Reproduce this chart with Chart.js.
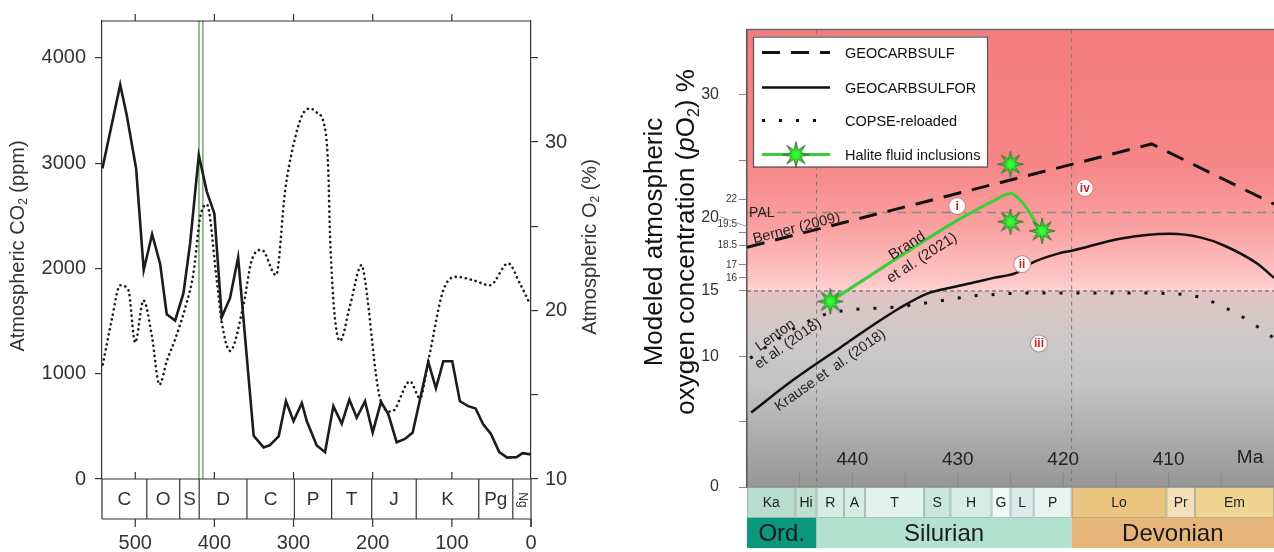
<!DOCTYPE html>
<html>
<head>
<meta charset="utf-8">
<script src="https://cdn.jsdelivr.net/npm/chart.js@4.4.1/dist/chart.umd.min.js"></script>
<style>
  html, body { margin: 0; padding: 0; background: #fff; }
  body { width: 1274px; height: 552px; position: relative; overflow: hidden; }
  #co2Chart { position: absolute; left: 0; top: 0; }
  #o2Chart { position: absolute; left: 600px; top: 0; }
</style>
</head>
<body>
<canvas id="co2Chart" width="600" height="552"></canvas>
<canvas id="o2Chart" width="674" height="552"></canvas>
<script>
const FONT = "'Liberation Sans', Arial, Helvetica, sans-serif";

// ---- left panel: Phanerozoic CO2 / O2 ----
const co2Ages = [541.5, 519, 510.6, 498.9, 489.3, 478.7, 468.6, 460.2, 449.6, 439.1, 430.7, 419.7, 409.6, 400, 390.7, 380.2, 370,
  350.4, 337.8, 330.2, 318.8, 309.6, 300, 289.5, 283.3, 270.7, 260.2, 249.7, 239.1, 229.5, 220.2, 209.7, 200, 189.5, 180.2,
  169.7, 159.2, 149.5, 129.8, 120.1, 110.7, 99.5, 89.8, 79.3, 70, 60.4, 50.6, 40.1, 30, 18.2, 10.7, 0];
const co2Values = [2950, 3745, 3450, 2950, 1985, 2325, 2045, 1565, 1505, 1765, 2235, 3075, 2730, 2520, 1535, 1720, 2105,
  410, 300, 320, 405, 740, 550, 722, 551, 318, 255, 692, 526, 754, 582, 738, 442, 732, 614,
  349, 380, 442, 1112, 863, 1119, 1119, 738, 692, 670, 520, 427, 255, 203, 208, 246, 234];

const o2Ages = [540.9, 529.5, 519.1, 508.6, 500.1, 489.6, 479, 469.4, 460.1, 449.6, 434.8, 426.5, 418.1, 409.6, 397, 390.7,
  380.2, 363.4, 352.8, 340.2, 322.1, 310.7, 300.3, 289, 279, 272, 260.2, 256, 253.9, 241.3, 228.6, 213.9, 209.7, 190.8,
  176, 152.9, 140.3, 129.8, 110.8, 94, 73, 51.9, 28.8, 14, 1.4];
const o2Values = [16.8, 19.5, 21.5, 21.2, 18.1, 20.6, 18.5, 15.6, 17.0, 18.3, 20.5, 22.2, 25.5, 26.3, 21.8, 19.3,
  17.6, 20.3, 23.0, 23.6, 22.1, 27.1, 29.8, 31.6, 32.0, 31.8, 30.8, 28.2, 24.4, 18.2, 20.3, 22.7, 21.8, 14.8,
  14.0, 15.8, 14.8, 17.0, 21.2, 22.0, 21.8, 21.5, 22.8, 21.6, 20.4];

const periodBounds = [542, 485.4, 443.8, 419.2, 358.9, 298.9, 251.9, 201.3, 145, 66, 23, 0];
const periodLabels = ['C', 'O', 'S', 'D', 'C', 'P', 'T', 'J', 'K', 'Pg', 'Ng'];
const greenBand = [419.5, 414.5];
const ageTicks = [500, 400, 300, 200, 100, 0];
const co2Ticks = [0, 1000, 2000, 3000, 4000];
const o2Ticks = [10, 15, 20, 25, 30, 35];

// ---- right panel: Silurian pO2 models ----
const sulfAges = [450, 411.6, 400];
const sulfO2 = [18.35, 26.25, 21.65];
const sulforAges = [449.6, 445.6, 441.1, 438.2, 435.5, 432.9, 430.4, 428.5, 426.6, 424.4, 423.1, 420.3, 419.1, 414.6, 409.9, 407, 404.8, 401.6, 400];
const sulforO2 = [5.7, 8.2, 10.7, 12.3, 13.7, 14.8, 15.3, 15.65, 16.0, 16.4, 17.1, 17.9, 18.1, 19.0, 19.37, 19.1, 18.5, 17.1, 16.0];
const copseAges = [449.7, 448.4, 446.9, 445.6, 444.0, 442.4, 440.7, 439.0, 437.2, 435.5, 433.7, 432.1, 430.4, 428.8, 427.0, 425.4, 420, 415, 410, 408.2, 406.5, 404.9, 403.6, 402, 400.1];
const copseO2 = [9.85, 10.6, 11.4, 12.1, 12.75, 13.26, 13.5, 13.64, 13.7, 13.8, 14.0, 14.2, 14.4, 14.6, 14.7, 14.8, 14.85, 14.85, 14.8, 14.7, 14.4, 13.8, 13.3, 12.5, 11.45];
const haliteLineAges = [442.1, 431.7, 428.5, 426.6, 425.5, 424.9, 424.4, 423.8, 423.2, 422.6, 422.1];
const haliteLineO2 = [14.2, 19.6, 21.1, 21.9, 22.35, 22.45, 22.2, 21.7, 21.0, 20.2, 19.6];
const haliteStarAges = [442.1, 425, 425, 422];
const haliteStarO2 = [14.2, 24.7, 20.3, 19.6];

const stageNames = ['Ka', 'Hi', 'R', 'A', 'T', 'S', 'H', 'G', 'L', 'P', 'Lo', 'Pr', 'Em'];
const stageBounds = [450, 445.4, 443.4, 440.8, 438.8, 433.2, 430.7, 426.8, 425.0, 422.8, 419.2, 410.2, 407.5, 400];
const stageColors = ['#b6ddcd', '#bee1d2', '#d6ede4', '#d6ede4', '#e2f3ee', '#c8e6da', '#d6ece6', '#f0f8f8', '#daecea', '#e6f4f0', '#ebc480', '#f5e1b9', '#f0d491'];
const periodNames = ['Ord.', 'Silurian', 'Devonian'];
const periodBounds2 = [450, 443.4, 419.2, 400];
const periodColors = ['#0a977b', '#b3e1d0', '#e5b57a'];
const boundaryAges = [443.4, 419.2];
const maTicks = [445, 440, 435, 430, 425, 420, 415, 410, 405];
const maLabels = [440, 430, 420, 410];
const yTicksRight = [0, 5, 10, 15, 16, 17, 18.5, 19.5, 22, 25, 30];
const yBigLabels = [0, 10, 15, 30];
const ySmallLabels = [16, 17, 18.5, 19.5, 22];
const palLevel = 21;
const romanLabels = ['i', 'ii', 'iii', 'iv'];
const romanAges = [430.06, 423.9, 422.3, 417.95];
const romanO2 = [21.5, 17.06, 10.98, 22.88];

function xy(xs, ys) { return xs.map((v, i) => ({ x: v, y: ys[i] })); }
function seg(ctx, x1, y1, x2, y2) { ctx.beginPath(); ctx.moveTo(x1, y1); ctx.lineTo(x2, y2); ctx.stroke(); }

function richText(ctx, parts, cx, cy, size, angle, color) {
  ctx.save();
  ctx.translate(cx, cy);
  ctx.rotate(angle);
  ctx.fillStyle = color;
  ctx.textBaseline = 'middle';
  ctx.textAlign = 'left';
  const fontFor = p => (p.it ? 'italic ' : '') + Math.round(p.sub ? size * 0.62 : size) + 'px ' + FONT;
  let total = 0;
  parts.forEach(p => { ctx.font = fontFor(p); total += ctx.measureText(p.t).width; });
  let pos = -total / 2;
  parts.forEach(p => {
    ctx.font = fontFor(p);
    ctx.fillText(p.t, pos, p.sub ? size * 0.3 : 0);
    pos += ctx.measureText(p.t).width;
  });
  ctx.restore();
}

function rotText(ctx, str, px, py, deg, size, color) {
  ctx.save();
  ctx.translate(px, py);
  ctx.rotate(deg * Math.PI / 180);
  ctx.font = size + 'px ' + FONT;
  ctx.fillStyle = color;
  ctx.textAlign = 'center';
  ctx.textBaseline = 'middle';
  ctx.fillText(str, 0, 0);
  ctx.restore();
}

// green star marker for the halite points
const starImg = (function() {
  const c = document.createElement('canvas');
  c.width = 28; c.height = 28;
  const g = c.getContext('2d');
  g.translate(14, 14);
  g.beginPath();
  for (let i = 0; i < 16; i++) {
    const r = i % 2 === 0 ? 13 : 5;
    const a = i * Math.PI / 8 - Math.PI / 2;
    g.lineTo(r * Math.cos(a), r * Math.sin(a));
  }
  g.closePath();
  const grad = g.createRadialGradient(0, 0, 1, 0, 0, 13);
  grad.addColorStop(0, '#3cff3c');
  grad.addColorStop(0.45, '#22dd22');
  grad.addColorStop(1, '#3d7d3d');
  g.fillStyle = grad;
  g.fill();
  g.strokeStyle = '#2f6b2f';
  g.lineWidth = 0.8;
  g.stroke();
  return c;
})();

// ---------- left chart ----------
const leftDecor = {
  id: 'leftDecor',
  beforeDatasetsDraw(chart) {
    const { ctx, chartArea: a } = chart;
    const x = chart.scales.x;
    ctx.save();
    ctx.strokeStyle = '#5f9a55';
    ctx.lineWidth = 1.3;
    greenBand.forEach(age => {
      const px = x.getPixelForValue(age);
      seg(ctx, px, a.top, px, a.bottom);
    });
    ctx.restore();
  },
  afterDraw(chart) {
    const { ctx, chartArea: a } = chart;
    const x = chart.scales.x;
    const sTop = a.bottom, sBot = a.bottom + 40;
    ctx.save();
    ctx.strokeStyle = '#333';
    ctx.lineWidth = 1.2;
    seg(ctx, a.left, a.top, a.right, a.top);
    seg(ctx, a.left, a.bottom, a.left, sBot);
    seg(ctx, a.right, a.bottom, a.right, sBot + 8);
    seg(ctx, a.left, sTop, a.right, sTop);
    seg(ctx, a.left, sBot, a.right, sBot);
    periodBounds.slice(1, -1).forEach(age => {
      const px = x.getPixelForValue(age);
      seg(ctx, px, sTop, px, sBot);
    });
    ageTicks.forEach(age => {
      const px = x.getPixelForValue(age);
      if (age > 0) {
        seg(ctx, px, a.top - 7, px, a.top);
        seg(ctx, px, a.bottom - 7, px, a.bottom);
      }
      seg(ctx, px, sBot, px, sBot + 8);
    });
    ctx.fillStyle = '#333';
    ctx.textAlign = 'center';
    ctx.textBaseline = 'middle';
    periodLabels.forEach((lab, i) => {
      const cx = (x.getPixelForValue(periodBounds[i]) + x.getPixelForValue(periodBounds[i + 1])) / 2;
      const cy = (sTop + sBot) / 2 + 1;
      if (lab === 'Ng') {
        ctx.save();
        ctx.translate(cx, cy);
        ctx.rotate(Math.PI / 2);
        ctx.font = '12px ' + FONT;
        ctx.fillText(lab, 0, 0);
        ctx.restore();
      } else {
        ctx.font = '19px ' + FONT;
        ctx.fillText(lab, cx, cy);
      }
    });
    richText(ctx, [{ t: 'Atmospheric CO' }, { t: '2', sub: true }, { t: ' (ppm)' }], 18, 246, 20, -Math.PI / 2, '#333');
    richText(ctx, [{ t: 'Atmospheric O' }, { t: '2', sub: true }, { t: ' (%)' }], 590, 247, 20, -Math.PI / 2, '#333');
    ctx.restore();
  }
};

new Chart(document.getElementById('co2Chart'), {
  type: 'line',
  data: {
    datasets: [
      {
        label: 'CO2',
        data: xy(co2Ages, co2Values),
        yAxisID: 'y',
        borderColor: '#1c1c1c',
        borderWidth: 2.6,
        pointRadius: 0,
        tension: 0
      },
      {
        label: 'O2',
        data: xy(o2Ages, o2Values),
        yAxisID: 'y2',
        borderColor: '#1c1c1c',
        borderWidth: 2.6,
        borderDash: [0.1, 5],
        borderCapStyle: 'round',
        pointRadius: 0,
        cubicInterpolationMode: 'monotone'
      }
    ]
  },
  options: {
    responsive: false,
    animation: false,
    events: [],
    layout: { autoPadding: false, padding: { top: 14, left: 0, right: 0, bottom: 0 } },
    plugins: { legend: { display: false }, tooltip: { enabled: false } },
    scales: {
      x: {
        type: 'linear', min: 0, max: 542, reverse: true,
        afterBuildTicks: s => { s.ticks = ageTicks.map(v => ({ value: v })); },
        ticks: { font: { family: FONT, size: 20 }, color: '#333', padding: 52, maxRotation: 0, autoSkip: false, callback: v => String(v) },
        grid: { display: false, drawTicks: false },
        border: { display: false },
        afterFit: s => { s.height = 73; }
      },
      y: {
        position: 'left', min: 0, max: 4350,
        afterBuildTicks: s => { s.ticks = co2Ticks.map(v => ({ value: v })); },
        ticks: { font: { family: FONT, size: 20 }, color: '#333', padding: 9, callback: v => String(v) },
        grid: { drawOnChartArea: false, tickLength: 7, color: '#333', lineWidth: 1.2 },
        border: { color: '#333', width: 1.2 },
        afterFit: s => { s.width = 102; }
      },
      y2: {
        position: 'right', min: 10, max: 37.1875,
        afterBuildTicks: s => { s.ticks = o2Ticks.map(v => ({ value: v })); },
        ticks: { font: { family: FONT, size: 20 }, color: '#333', padding: 7, callback: v => (v % 10 === 0 ? String(v) : '') },
        grid: { drawOnChartArea: false, tickLength: 7, color: '#333', lineWidth: 1.2 },
        border: { color: '#333', width: 1.2 },
        afterFit: s => { s.width = 69; }
      }
    }
  },
  plugins: [leftDecor]
});

// ---------- right chart ----------
const rightDecor = {
  id: 'rightDecor',
  beforeDraw(chart) {
    const { ctx, chartArea: a } = chart;
    const y = chart.scales.y;
    const stops = [[35, 'rgb(244,124,124)'], [25, 'rgb(246,133,133)'], [20, 'rgb(250,160,160)'], [16, 'rgb(253,196,196)'],
      [15.05, 'rgb(254,210,210)'], [14.95, 'rgb(224,196,196)'], [11, 'rgb(204,201,201)'], [8, 'rgb(196,196,196)'], [0, 'rgb(150,150,150)']];
    const grad = ctx.createLinearGradient(0, a.top, 0, a.bottom);
    stops.forEach(([v, c]) => {
      const off = (y.getPixelForValue(v) - a.top) / (a.bottom - a.top);
      grad.addColorStop(Math.min(1, Math.max(0, off)), c);
    });
    ctx.save();
    ctx.fillStyle = grad;
    ctx.fillRect(a.left, a.top, a.right - a.left, a.bottom - a.top);
    ctx.restore();
  },
  beforeDatasetsDraw(chart) {
    const { ctx, chartArea: a } = chart;
    const x = chart.scales.x, y = chart.scales.y;
    ctx.save();
    ctx.lineWidth = 1.5;
    ctx.strokeStyle = '#8a8a8a';
    ctx.setLineDash([9, 6]);
    const pal = y.getPixelForValue(palLevel);
    seg(ctx, a.left, pal, a.right, pal);
    ctx.lineWidth = 1;
    ctx.strokeStyle = '#555';
    ctx.setLineDash([4, 3]);
    const p15 = y.getPixelForValue(15);
    seg(ctx, a.left, p15, a.right, p15);
    ctx.strokeStyle = '#777';
    ctx.setLineDash([4, 4]);
    boundaryAges.forEach(age => {
      const px = x.getPixelForValue(age);
      seg(ctx, px, a.top, px, a.bottom);
    });
    ctx.restore();
  },
  afterDatasetsDraw(chart) {
    const { ctx, chartArea: a } = chart;
    const x = chart.scales.x, y = chart.scales.y;
    ctx.save();
    // frame top
    ctx.strokeStyle = '#6a6a6a';
    ctx.lineWidth = 1.5;
    seg(ctx, a.left, a.top, a.right, a.top);

    // inner tick marks and Ma labels
    ctx.strokeStyle = '#888';
    ctx.lineWidth = 1;
    maTicks.forEach(age => {
      const px = x.getPixelForValue(age);
      seg(ctx, px, a.bottom - 14, px, a.bottom);
    });
    ctx.fillStyle = '#222';
    ctx.font = '19px ' + FONT;
    ctx.textAlign = 'center';
    ctx.textBaseline = 'middle';
    maLabels.forEach(age => ctx.fillText(String(age), x.getPixelForValue(age), a.bottom - 27));
    ctx.fillText('Ma', a.right - 24, a.bottom - 29);

    // stage and period strips
    const s1 = a.bottom, s2 = a.bottom + 31, s3 = a.bottom + 61;
    ctx.strokeStyle = 'rgba(130,150,140,0.55)';
    stageNames.forEach((nm, i) => {
      const l = x.getPixelForValue(stageBounds[i]), r = x.getPixelForValue(stageBounds[i + 1]);
      ctx.fillStyle = stageColors[i];
      ctx.fillRect(l, s1, r - l, s2 - s1);
      ctx.strokeRect(l + 0.5, s1 + 0.5, r - l - 1, s2 - s1 - 1);
      ctx.fillStyle = '#222';
      ctx.font = '14px ' + FONT;
      ctx.fillText(nm, (l + r) / 2, (s1 + s2) / 2 + 1);
    });
    periodNames.forEach((nm, i) => {
      const l = x.getPixelForValue(periodBounds2[i]), r = x.getPixelForValue(periodBounds2[i + 1]);
      ctx.fillStyle = periodColors[i];
      ctx.fillRect(l, s2, r - l, s3 - s2);
      ctx.fillStyle = '#1a1a1a';
      ctx.font = '24px ' + FONT;
      ctx.fillText(nm, (l + r) / 2, (s2 + s3) / 2 + 1);
    });
    ctx.strokeStyle = '#888';
    seg(ctx, a.left, s1, a.right, s1);

    // small y labels and the 20 leader
    ctx.font = '10px ' + FONT;
    ctx.textAlign = 'right';
    ctx.fillStyle = '#333';
    ySmallLabels.forEach(v => {
      const shift = v === 19.5 ? -8 : 0;
      ctx.fillText(String(v), a.left - 10, y.getPixelForValue(v) + shift);
    });
    ctx.strokeStyle = '#999';
    ctx.lineWidth = 1;
    const p20 = y.getPixelForValue(20);
    seg(ctx, a.left - 27, p20 - 9, a.left, p20 + 1);
    ctx.font = '16px ' + FONT;
    ctx.textAlign = 'right';
    ctx.fillText('20', a.left - 28, p20 - 8);

    // annotations along the curves
    ctx.textAlign = 'left';
    ctx.font = '14px ' + FONT;
    ctx.fillStyle = '#222';
    ctx.fillText('PAL', x.getPixelForValue(449.8), y.getPixelForValue(20.93));
    rotText(ctx, 'Berner (2009)', x.getPixelForValue(445.3), y.getPixelForValue(19.79), -14.4, 14.5, '#222');
    rotText(ctx, 'Brand', x.getPixelForValue(434.8), y.getPixelForValue(18.45), -32.7, 15, '#222');
    rotText(ctx, 'et al. (2021)', x.getPixelForValue(433.4), y.getPixelForValue(17.52), -32.7, 15, '#222');
    rotText(ctx, 'Lenton', x.getPixelForValue(447.3), y.getPixelForValue(11.6), -35, 14.5, '#222');
    rotText(ctx, 'et al. (2018)', x.getPixelForValue(446.1), y.getPixelForValue(10.95), -35, 14.5, '#222');
    rotText(ctx, 'Krause et  al. (2018)', x.getPixelForValue(442.1), y.getPixelForValue(8.92), -35, 14.5, '#222');

    // roman numeral markers
    romanLabels.forEach((t, i) => {
      const px = x.getPixelForValue(romanAges[i]), py = y.getPixelForValue(romanO2[i]);
      ctx.beginPath();
      ctx.arc(px, py, 8.5, 0, Math.PI * 2);
      ctx.fillStyle = '#fff';
      ctx.fill();
      ctx.strokeStyle = '#d08a8a';
      ctx.lineWidth = 1.2;
      ctx.stroke();
      ctx.fillStyle = '#c8262a';
      ctx.font = 'bold 12px ' + FONT;
      ctx.textAlign = 'center';
      ctx.fillText(t, px, py + 0.5);
    });

    // legend box
    const lx = a.left + 6, ly = a.top + 7, lw = 234, lh = 130;
    ctx.fillStyle = '#fff';
    ctx.fillRect(lx, ly, lw, lh);
    ctx.strokeStyle = '#555';
    ctx.lineWidth = 1.2;
    ctx.strokeRect(lx + 0.5, ly + 0.5, lw, lh);
    const ds = chart.data.datasets;
    const rows = [ds[4], ds[3], ds[2], ds[1]];
    const rowY = [16, 51, 84, 118];
    rows.forEach((d, i) => {
      const yy = ly + rowY[i];
      ctx.save();
      ctx.strokeStyle = d.borderColor;
      ctx.lineWidth = d.borderWidth;
      ctx.setLineDash(d.borderDash || []);
      seg(ctx, lx + 9, yy, lx + 77, yy);
      ctx.restore();
      if (i === 3) ctx.drawImage(starImg, lx + 43 - 14, yy - 14);
      ctx.fillStyle = '#111';
      ctx.font = '14.5px ' + FONT;
      ctx.textAlign = 'left';
      ctx.fillText(d.label, lx + 92, yy + 1);
    });

    // y-axis title
    richText(ctx, [{ t: 'Modeled atmospheric' }], 55, 242, 26, -Math.PI / 2, '#111');
    richText(ctx, [{ t: 'oxygen concentration (' }, { t: 'p', it: true }, { t: 'O' }, { t: '2', sub: true }, { t: ') %' }], 87, 242, 26, -Math.PI / 2, '#111');
    ctx.restore();
  }
};

new Chart(document.getElementById('o2Chart'), {
  type: 'line',
  data: {
    datasets: [
      {
        label: 'Halite stars',
        data: xy(haliteStarAges, haliteStarO2),
        showLine: false,
        pointStyle: starImg,
        pointRadius: 13
      },
      {
        label: 'Halite fluid inclusions',
        data: xy(haliteLineAges, haliteLineO2),
        borderColor: '#3ccc3c',
        borderWidth: 3,
        pointRadius: 0,
        tension: 0.4
      },
      {
        label: 'COPSE-reloaded',
        data: xy(copseAges, copseO2),
        borderColor: '#111',
        borderWidth: 3,
        borderDash: [3, 14],
        pointRadius: 0,
        cubicInterpolationMode: 'monotone'
      },
      {
        label: 'GEOCARBSULFOR',
        data: xy(sulforAges, sulforO2),
        borderColor: '#111',
        borderWidth: 2.5,
        pointRadius: 0,
        cubicInterpolationMode: 'monotone'
      },
      {
        label: 'GEOCARBSULF',
        data: xy(sulfAges, sulfO2),
        borderColor: '#111',
        borderWidth: 3,
        borderDash: [18, 11],
        pointRadius: 0,
        tension: 0
      }
    ]
  },
  options: {
    responsive: false,
    animation: false,
    events: [],
    layout: { autoPadding: false, padding: { top: 28, bottom: 65, left: 0, right: 0 } },
    plugins: { legend: { display: false }, tooltip: { enabled: false } },
    scales: {
      x: { type: 'linear', min: 400, max: 450, reverse: true, display: false },
      y: {
        min: 0, max: 35,
        afterBuildTicks: s => { s.ticks = yTicksRight.map(v => ({ value: v })); },
        ticks: {
          autoSkip: false, padding: 20, color: '#333',
          font: { family: FONT, size: 16 },
          callback: v => (yBigLabels.includes(v) ? String(v) : '')
        },
        grid: { drawOnChartArea: false, tickLength: 8, color: '#888' },
        border: { color: '#555', width: 1.5 },
        afterFit: s => { s.width = 147; }
      }
    }
  },
  plugins: [rightDecor]
});
</script>
</body>
</html>
